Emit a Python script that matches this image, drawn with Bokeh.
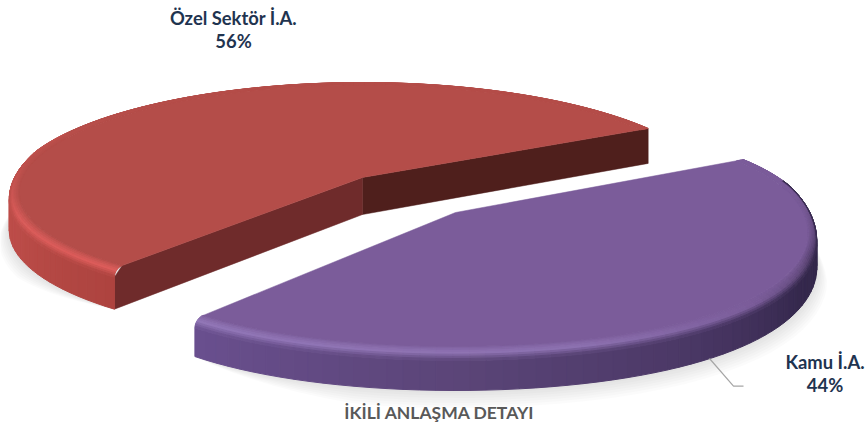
import math
from bokeh.plotting import figure
from bokeh.embed import file_html
from bokeh.resources import INLINE
from bokeh.core.properties import value
from bokeh.models import Range1d

categories = ["Özel Sektör İ.A.", "Kamu İ.A."]
shares = [56, 44]
title_text = "İKİLİ ANLAŞMA DETAYI"

W, H = 866, 423
p = figure(width=W, height=H, output_backend="svg", toolbar_location=None,
           x_range=Range1d(0, W), y_range=Range1d(H, 0),
           min_border=0, outline_line_color=None)
p.axis.visible = False
p.grid.visible = False
p.background_fill_color = "white"
p.border_fill_color = "white"

START_RED = 29.2   # degrees, right cut edge of the red slice
START_PUR = 32.0   # degrees, right cut edge of the purple slice


def hex2rgb(h):
    return tuple(int(h[i:i + 2], 16) for i in (1, 3, 5))


def mix(a, b, t):
    t = max(0.0, min(1.0, t))
    ca, cb = hex2rgb(a), hex2rgb(b)
    return "#%02x%02x%02x" % tuple(round(x + (y - x) * t) for x, y in zip(ca, cb))


def ramp(stops, a):
    if a <= stops[0][0]:
        return stops[0][1]
    for (a0, c0), (a1, c1) in zip(stops, stops[1:]):
        if a <= a1:
            return mix(c0, c1, (a - a0) / (a1 - a0))
    return stops[-1][1]


def proj(g, deg, r=1.0, z=0.0):
    u = r * math.cos(math.radians(deg))
    v = r * math.sin(math.radians(deg))
    w = 1 + g["k"] * v
    a, b, c = g["wx"]
    wx = a + b * v + c * v * v
    return (g["cx"] + g["R"] * u / wx, g["cy"] - g["Ry"] * v / w + z / w)


def zeff(g, deg):
    return g["Z"] * max(0.0, min(1.0, (0.25 - math.sin(math.radians(deg))) / 0.45))


def quad(xs, ys, cols, pts, col):
    xs.append([q[0] for q in pts])
    ys.append([q[1] for q in pts])
    cols.append(col)


def draw_slice(g, a0, a1):
    n = max(2, int((a1 - a0) / 2))
    angs = [a0 + (a1 - a0) * i / n for i in range(n + 1)]
    lo, hi = g["vis"]
    for s in range(1, 8):
        pts = [proj(g, 0, 0, g["D"])]
        m = 40
        for i in range(m + 1):
            a = lo + (hi - lo) * i / m
            t = min(1.0, min(a - lo, hi - a) / 25)
            pts.append(proj(g, a, 1 + 0.004 * s * t, g["D"] + 1.4 * s * t))
        p.patch([q[0] for q in pts], [q[1] for q in pts], fill_color="#808080", fill_alpha=0.03, line_color=None)

    for ang, col in g["faces"]:
        z = zeff(g, ang)
        pts = [proj(g, 0, 0, 0), proj(g, ang, g["RF"], 0), proj(g, ang, 1, z), proj(g, ang, 1, g["D"]), proj(g, 0, 0, g["D"])]
        p.patch([q[0] for q in pts], [q[1] for q in pts], fill_color=col, line_color=col, line_width=0.5)

    xs, ys, cols = [], [], []
    for b0, b1 in zip(angs, angs[1:]):
        m = (b0 + b1) / 2
        if m < lo - 5 or m > hi + 5:
            continue
        c = ramp(g["side"], m)
        quad(xs, ys, cols, [proj(g, b0, 1, zeff(g, b0)), proj(g, b1, 1, zeff(g, b1)),
                            proj(g, b1, 1, g["D"]), proj(g, b0, 1, g["D"])], c)
    pts = [proj(g, 0, 0, 0)] + [proj(g, a, g["RF"], 0) for a in angs]
    steps = 8
    for j in range(steps):
        t0, t1 = j / steps, (j + 1) / steps
        for b0, b1 in zip(angs, angs[1:]):
            m = (b0 + b1) / 2
            mid = (t0 + t1) / 2
            hl = ramp(g["rim"], m)
            sc = ramp(g["side"], m)
            if mid < 0.55:
                col = mix(g["top"], hl, mid / 0.55)
            else:
                col = mix(hl, sc if lo - 5 <= m <= hi + 5 else g["top"], (mid - 0.55) / 0.45)
            r0 = g["RF"] + (1 - g["RF"]) * math.sin(t0 * math.pi / 2)
            r1 = g["RF"] + (1 - g["RF"]) * math.sin(t1 * math.pi / 2)
            f0 = 1 - math.cos(t0 * math.pi / 2)
            f1 = 1 - math.cos(t1 * math.pi / 2)
            quad(xs, ys, cols, [proj(g, b0, r0, zeff(g, b0) * f0), proj(g, b1, r0, zeff(g, b1) * f0),
                                proj(g, b1, r1, zeff(g, b1) * f1), proj(g, b0, r1, zeff(g, b0) * f1)], col)
    p.patches(xs, ys, fill_color=cols, line_color=cols, line_width=1)
    p.patch([q[0] for q in pts], [q[1] for q in pts], fill_color=g["top"], line_color=g["top"], line_width=0.5)


span = [s / sum(shares) * 360 for s in shares]
red_end = START_RED + span[0]
pur_begin = START_PUR + 360 - span[1]

red = dict(cx=362, cy=177, R=348, Ry=106.4, k=0.12, wx=(0.995, 0.14, 0), D=37, Z=8, RF=0.972, top="#b44d49",
           vis=(160, red_end),
           faces=[(START_RED, "#4f1f1c"), (red_end, "#6f2b2b")],
           side=[(160, "#c0524e"), (200, "#bc4c48"), (235, "#ab423e")],
           rim=[(110, "#b44d49"), (170, "#bc504c"), (200, "#da5b59"), (235, "#de5d5b")])
pur = dict(cx=455, cy=212, R=353, Ry=110.4, k=0.2, wx=(0.991, 0.148, -0.105), D=32, Z=8, RF=0.976, top="#7b5c9a",
           vis=(pur_begin, 372),
           faces=[],
           side=[(230, "#6b5091"), (270, "#5b4578"), (300, "#4b3866"), (330, "#35284d"), (375, "#2f2545")],
           rim=[(230, "#9277b8"), (285, "#8e72b2"), (315, "#7b5c9a"), (340, "#56416f"), (372, "#7b5c9a")])

draw_slice(red, START_RED, red_end)
draw_slice(pur, pur_begin, START_PUR + 360)

p.line([709, 733, 743], [358, 385.7, 385.7], line_color="#a6a6a6", line_width=1.2)

FS = "18.4px"
for cat, val, x, y in zip(categories, shares, [233, 824.5], [17, 361]):
    p.text([x], [y], text=[cat], text_font=value("Lato"), text_font_style="bold", text_font_size=FS,
           text_color="#1f3450", text_align="center", text_baseline="middle")
    p.text([x], [y + 23.5], text=[f"{val}%"], text_font=value("Lato"), text_font_style="bold", text_font_size=FS,
           text_color="#1f3450", text_align="center", text_baseline="middle")
p.text([439], [412], text=[title_text], text_font=value("Lato"), text_font_style="bold", text_font_size="17.5px",
       text_color="#595959", text_align="center", text_baseline="middle")

open("out.html", "w").write(file_html(p, INLINE))
